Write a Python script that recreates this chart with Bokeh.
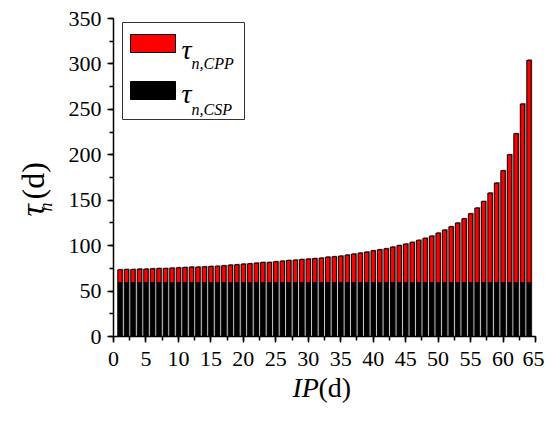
from math import pi
from bokeh.plotting import figure
from bokeh.models import (ColumnDataSource, Label, BoxAnnotation,
                          SingleIntervalTicker, Range1d)
from bokeh.transform import dodge
from bokeh.embed import file_html
from bokeh.resources import INLINE

# ---- data ----
ip_days = list(range(1, 65))
tau_n = [73.5, 73.8, 73.8, 74.2, 74.2, 74.5, 74.9, 74.9, 75.3, 75.6,
         76.0, 76.4, 76.4, 76.7, 77.1, 77.4, 77.9, 78.6, 79.0, 79.7,
         80.1, 80.8, 81.5, 81.5, 82.3, 83.0, 83.7, 84.1, 84.8, 85.3,
         85.7, 86.3, 87.4, 87.8, 88.5, 89.6, 90.7, 91.8, 92.9, 94.4,
         95.5, 96.6, 98.4, 100.2, 101.7, 103.7, 105.9, 108.1, 110.5, 113.8,
         117.1, 120.8, 124.9, 129.6, 135.1, 141.4, 148.7, 157.9, 168.9, 182.5,
         200.1, 223.2, 255.9, 304.0]
tau_csp = [59.0, 59.0, 59.0, 59.0, 59.0, 59.0, 59.0, 59.0, 59.0, 59.0,
           59.0, 59.0, 59.0, 59.0, 59.0, 59.0, 59.0, 59.0, 59.0, 59.0,
           59.0, 59.0, 59.0, 59.0, 59.0, 59.0, 59.0, 59.0, 59.0, 59.0,
           59.0, 59.0, 59.0, 59.0, 59.0, 59.0, 59.0, 59.0, 59.0, 59.0,
           59.0, 59.0, 59.0, 59.0, 59.0, 59.0, 59.0, 59.0, 59.0, 59.0,
           59.0, 59.0, 59.0, 59.0, 59.0, 59.0, 59.0, 59.0, 59.0, 59.0,
           59.0, 59.0, 59.0, 59.0]
x_axis_bounds = (0, 65)
y_axis_bounds = (0, 350)

FONT = "Liberation Serif"

# ---- layout: page pixel positions of the axes ----
W, H = 544, 420
OFF = 1                      # page offset of the canvas
PX0, PX65 = 114, 536         # page x of x=0 and x=65
PY0, PY350 = 337, 19         # page y of y=0 and y=350
sx = (PX65 - PX0) / (x_axis_bounds[1] - x_axis_bounds[0])
sy = (PY0 - PY350) / (y_axis_bounds[1] - y_axis_bounds[0])
x_start = x_axis_bounds[0] - (PX0 - OFF) / sx
x_end = x_axis_bounds[1] + (W + OFF - PX65) / sx
y_end = y_axis_bounds[1] + (PY350 - OFF) / sy
y_start = y_axis_bounds[0] - (H + OFF - PY0) / sy

src = ColumnDataSource(dict(x=ip_days, tau_n=tau_n, tau_csp=tau_csp))

p = figure(width=W, height=H, x_range=Range1d(x_start, x_end),
           y_range=Range1d(y_start, y_end),
           output_backend="svg", toolbar_location=None, min_border=0)
p.xgrid.visible = False
p.ygrid.visible = False
p.outline_line_color = None

BW = 0.68
# shadow
p.vbar(x=dodge("x", 0.16), top=dodge("tau_n", 1.1), bottom=0, width=BW,
       source=src, fill_color="#8c8c8c", line_color=None)
# red (CPP) part
p.vbar(x="x", top="tau_n", bottom="tau_csp", width=BW, source=src,
       fill_color="#ff0000", line_color="black", line_width=1)
# black (CSP) part
p.vbar(x="x", top="tau_csp", bottom=0, width=BW, source=src,
       fill_color="black", line_color="black", line_width=1)

p.xaxis.ticker = SingleIntervalTicker(interval=5, num_minor_ticks=2)
p.yaxis.ticker = SingleIntervalTicker(interval=50, num_minor_ticks=2)
p.xaxis.fixed_location = 0
p.yaxis.fixed_location = 0
p.xaxis.bounds = x_axis_bounds
p.yaxis.bounds = y_axis_bounds
for ax in (p.xaxis, p.yaxis):
    ax.major_label_text_font = FONT
    ax.major_label_text_font_size = "22px"
    ax.major_label_text_color = "black"
    ax.axis_line_width = 1.5
    ax.axis_line_color = "black"
    ax.major_tick_line_width = 1.5
    ax.minor_tick_line_width = 1.5
    ax.major_tick_out = 6
    ax.major_tick_in = 0
    ax.minor_tick_out = 4
    ax.minor_tick_in = 0
p.xaxis.major_label_standoff = 9
p.yaxis.major_label_standoff = 6


def lab(text, px, py, size, style="normal", angle=0.0):
    p.add_layout(Label(x=px - OFF, y=H + OFF - py, x_units="screen", y_units="screen",
                       text=text, text_font=FONT, text_font_size=size,
                       text_font_style=style, text_color="black",
                       angle=angle, text_align="left", text_baseline="alphabetic"))


def box(l, t, r, b, fill, line="black"):
    p.add_layout(BoxAnnotation(left=l - OFF, right=r - OFF,
                               top=H + OFF - t, bottom=H + OFF - b,
                               left_units="screen", right_units="screen",
                               top_units="screen", bottom_units="screen",
                               fill_color=fill, fill_alpha=1.0,
                               line_color=line, line_width=1, line_alpha=1.0))

# legend
box(123, 23, 245, 120, "white", "#333333")
box(131, 35, 176, 53, "#ff0000")
box(131, 82, 176, 100, "black")
lab("τ", 182, 50, "28px", "italic")
lab("n,CPP", 192, 64, "16px", "italic")
lab("τ", 182, 94, "28px", "italic")
lab("n,CSP", 192, 110, "16px", "italic")

# axis titles
lab("IP", 293, 388, "28px", "italic")
lab("(d)", 319, 388, "28px")
lab("τ", 33, 217, "34px", "italic", angle=pi / 2)
lab("(d)", 33, 200, "32px", angle=pi / 2)
lab("n", 46, 212, "18px", "italic", angle=pi / 2)

open("out.html", "w").write(file_html(p, INLINE))
